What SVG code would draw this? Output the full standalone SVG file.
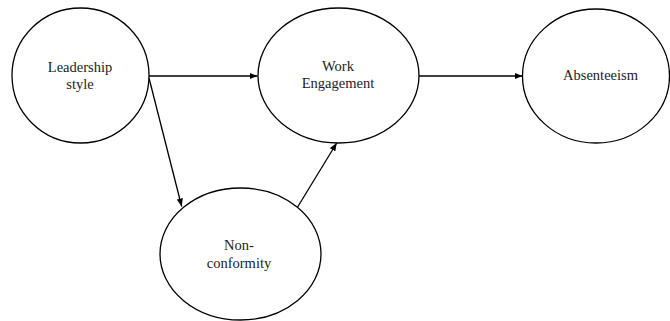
<svg xmlns="http://www.w3.org/2000/svg" width="670" height="321" viewBox="0 0 670 321">
<style>
.n{fill:#fff;stroke:#000;stroke-width:1.3}
.t{font-size:14.5px;fill:#222;text-anchor:middle}
.c{stroke:#000;stroke-width:1.3;fill:none;marker-end:url(#ah)}
</style>
<defs>
<marker id="ah" viewBox="0 0 10 8" refX="10" refY="4" markerWidth="8" markerHeight="6.4" markerUnits="userSpaceOnUse" orient="auto">
<path d="M0,0 L10,4 L0,8 Z" fill="#000"/>
</marker>
</defs>
<g id="connectors">
<line class="c" x1="149" y1="76" x2="257.5" y2="76"/>
<line class="c" x1="419" y1="76" x2="522.5" y2="76"/>
<line class="c" x1="149" y1="78" x2="181.7" y2="206.5"/>
<line class="c" x1="297" y1="208" x2="336.7" y2="143"/>
</g>
<g font-family="'Liberation Serif', serif">
<g id="leadership">
<ellipse class="n" cx="80.5" cy="75.5" rx="68.5" ry="67.5"/>
<text class="t" x="80" y="72">Leadership</text>
<text class="t" x="80" y="89">style</text>
</g>
<g id="work">
<ellipse class="n" cx="338.5" cy="75.5" rx="80.5" ry="67.5"/>
<text class="t" x="338" y="71">Work</text>
<text class="t" x="338" y="88">Engagement</text>
</g>
<g id="absenteeism">
<ellipse class="n" cx="596" cy="76" rx="73.5" ry="67"/>
<text class="t" x="600.5" y="80">Absenteeism</text>
</g>
<g id="nonconformity">
<ellipse class="n" cx="240.5" cy="254" rx="80.5" ry="66"/>
<text class="t" x="239" y="250">Non-</text>
<text class="t" x="239" y="268">conformity</text>
</g>
</g>
</svg>
